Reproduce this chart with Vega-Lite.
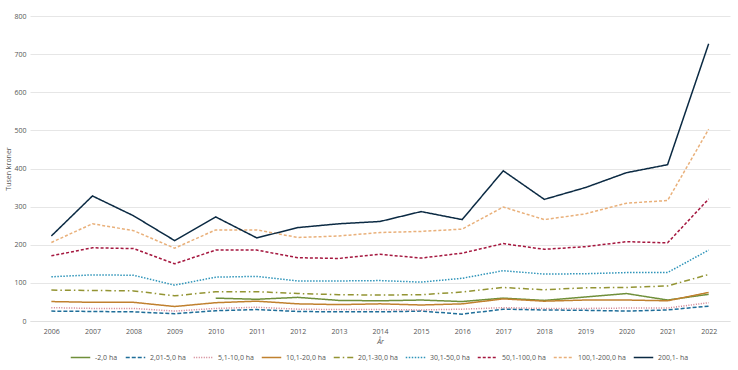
{
  "$schema": "https://vega.github.io/schema/vega-lite/v6.json",
  "width": 700,
  "height": 305,
  "autosize": "none",
  "padding": {"left": 30, "top": 16, "right": 8, "bottom": 49},
  "background": "white",
  "config": {
    "font": "Open Sans",
    "view": {"stroke": null},
    "axis": {"labelFont": "Open Sans", "titleFont": "Open Sans", "labelColor": "#555", "titleColor": "#555", "labelFontSize": 7, "titleFontSize": 7, "titleFontWeight": "normal"}
  },
  "data": {"values": [
    {"year":"2010","group":"-2,0 ha","value":60},{"year":"2011","group":"-2,0 ha","value":57},{"year":"2012","group":"-2,0 ha","value":62},{"year":"2013","group":"-2,0 ha","value":54},{"year":"2014","group":"-2,0 ha","value":53},{"year":"2015","group":"-2,0 ha","value":55},{"year":"2016","group":"-2,0 ha","value":51},{"year":"2017","group":"-2,0 ha","value":60},{"year":"2018","group":"-2,0 ha","value":54},{"year":"2019","group":"-2,0 ha","value":63},{"year":"2020","group":"-2,0 ha","value":72},{"year":"2021","group":"-2,0 ha","value":55},{"year":"2022","group":"-2,0 ha","value":70},

    {"year":"2006","group":"2,01-5,0 ha","value":26},{"year":"2007","group":"2,01-5,0 ha","value":25},{"year":"2008","group":"2,01-5,0 ha","value":24},{"year":"2009","group":"2,01-5,0 ha","value":19},{"year":"2010","group":"2,01-5,0 ha","value":27},{"year":"2011","group":"2,01-5,0 ha","value":30},{"year":"2012","group":"2,01-5,0 ha","value":25},{"year":"2013","group":"2,01-5,0 ha","value":24},{"year":"2014","group":"2,01-5,0 ha","value":24},{"year":"2015","group":"2,01-5,0 ha","value":26},{"year":"2016","group":"2,01-5,0 ha","value":18},{"year":"2017","group":"2,01-5,0 ha","value":31},{"year":"2018","group":"2,01-5,0 ha","value":29},{"year":"2019","group":"2,01-5,0 ha","value":28},{"year":"2020","group":"2,01-5,0 ha","value":26},{"year":"2021","group":"2,01-5,0 ha","value":29},{"year":"2022","group":"2,01-5,0 ha","value":39},

    {"year":"2006","group":"5,1-10,0 ha","value":35},{"year":"2007","group":"5,1-10,0 ha","value":33},{"year":"2008","group":"5,1-10,0 ha","value":33},{"year":"2009","group":"5,1-10,0 ha","value":26},{"year":"2010","group":"5,1-10,0 ha","value":33},{"year":"2011","group":"5,1-10,0 ha","value":36},{"year":"2012","group":"5,1-10,0 ha","value":31},{"year":"2013","group":"5,1-10,0 ha","value":30},{"year":"2014","group":"5,1-10,0 ha","value":30},{"year":"2015","group":"5,1-10,0 ha","value":29},{"year":"2016","group":"5,1-10,0 ha","value":31},{"year":"2017","group":"5,1-10,0 ha","value":35},{"year":"2018","group":"5,1-10,0 ha","value":33},{"year":"2019","group":"5,1-10,0 ha","value":33},{"year":"2020","group":"5,1-10,0 ha","value":34},{"year":"2021","group":"5,1-10,0 ha","value":34},{"year":"2022","group":"5,1-10,0 ha","value":48},

    {"year":"2006","group":"10,1-20,0 ha","value":51},{"year":"2007","group":"10,1-20,0 ha","value":49},{"year":"2008","group":"10,1-20,0 ha","value":49},{"year":"2009","group":"10,1-20,0 ha","value":38},{"year":"2010","group":"10,1-20,0 ha","value":48},{"year":"2011","group":"10,1-20,0 ha","value":52},{"year":"2012","group":"10,1-20,0 ha","value":45},{"year":"2013","group":"10,1-20,0 ha","value":43},{"year":"2014","group":"10,1-20,0 ha","value":45},{"year":"2015","group":"10,1-20,0 ha","value":42},{"year":"2016","group":"10,1-20,0 ha","value":45},{"year":"2017","group":"10,1-20,0 ha","value":58},{"year":"2018","group":"10,1-20,0 ha","value":52},{"year":"2019","group":"10,1-20,0 ha","value":55},{"year":"2020","group":"10,1-20,0 ha","value":55},{"year":"2021","group":"10,1-20,0 ha","value":53},{"year":"2022","group":"10,1-20,0 ha","value":75},

    {"year":"2006","group":"20,1-30,0 ha","value":81},{"year":"2007","group":"20,1-30,0 ha","value":80},{"year":"2008","group":"20,1-30,0 ha","value":79},{"year":"2009","group":"20,1-30,0 ha","value":66},{"year":"2010","group":"20,1-30,0 ha","value":77},{"year":"2011","group":"20,1-30,0 ha","value":77},{"year":"2012","group":"20,1-30,0 ha","value":72},{"year":"2013","group":"20,1-30,0 ha","value":69},{"year":"2014","group":"20,1-30,0 ha","value":68},{"year":"2015","group":"20,1-30,0 ha","value":69},{"year":"2016","group":"20,1-30,0 ha","value":76},{"year":"2017","group":"20,1-30,0 ha","value":88},{"year":"2018","group":"20,1-30,0 ha","value":82},{"year":"2019","group":"20,1-30,0 ha","value":87},{"year":"2020","group":"20,1-30,0 ha","value":88},{"year":"2021","group":"20,1-30,0 ha","value":92},{"year":"2022","group":"20,1-30,0 ha","value":122},

    {"year":"2006","group":"30,1-50,0 ha","value":116},{"year":"2007","group":"30,1-50,0 ha","value":121},{"year":"2008","group":"30,1-50,0 ha","value":120},{"year":"2009","group":"30,1-50,0 ha","value":94},{"year":"2010","group":"30,1-50,0 ha","value":115},{"year":"2011","group":"30,1-50,0 ha","value":117},{"year":"2012","group":"30,1-50,0 ha","value":105},{"year":"2013","group":"30,1-50,0 ha","value":105},{"year":"2014","group":"30,1-50,0 ha","value":106},{"year":"2015","group":"30,1-50,0 ha","value":102},{"year":"2016","group":"30,1-50,0 ha","value":112},{"year":"2017","group":"30,1-50,0 ha","value":132},{"year":"2018","group":"30,1-50,0 ha","value":123},{"year":"2019","group":"30,1-50,0 ha","value":124},{"year":"2020","group":"30,1-50,0 ha","value":127},{"year":"2021","group":"30,1-50,0 ha","value":127},{"year":"2022","group":"30,1-50,0 ha","value":186},

    {"year":"2006","group":"50,1-100,0 ha","value":171},{"year":"2007","group":"50,1-100,0 ha","value":192},{"year":"2008","group":"50,1-100,0 ha","value":190},{"year":"2009","group":"50,1-100,0 ha","value":150},{"year":"2010","group":"50,1-100,0 ha","value":186},{"year":"2011","group":"50,1-100,0 ha","value":186},{"year":"2012","group":"50,1-100,0 ha","value":166},{"year":"2013","group":"50,1-100,0 ha","value":164},{"year":"2014","group":"50,1-100,0 ha","value":175},{"year":"2015","group":"50,1-100,0 ha","value":165},{"year":"2016","group":"50,1-100,0 ha","value":178},{"year":"2017","group":"50,1-100,0 ha","value":203},{"year":"2018","group":"50,1-100,0 ha","value":188},{"year":"2019","group":"50,1-100,0 ha","value":195},{"year":"2020","group":"50,1-100,0 ha","value":208},{"year":"2021","group":"50,1-100,0 ha","value":205},{"year":"2022","group":"50,1-100,0 ha","value":320},

    {"year":"2006","group":"100,1-200,0 ha","value":206},{"year":"2007","group":"100,1-200,0 ha","value":255},{"year":"2008","group":"100,1-200,0 ha","value":237},{"year":"2009","group":"100,1-200,0 ha","value":191},{"year":"2010","group":"100,1-200,0 ha","value":239},{"year":"2011","group":"100,1-200,0 ha","value":239},{"year":"2012","group":"100,1-200,0 ha","value":219},{"year":"2013","group":"100,1-200,0 ha","value":223},{"year":"2014","group":"100,1-200,0 ha","value":232},{"year":"2015","group":"100,1-200,0 ha","value":235},{"year":"2016","group":"100,1-200,0 ha","value":241},{"year":"2017","group":"100,1-200,0 ha","value":299},{"year":"2018","group":"100,1-200,0 ha","value":266},{"year":"2019","group":"100,1-200,0 ha","value":281},{"year":"2020","group":"100,1-200,0 ha","value":309},{"year":"2021","group":"100,1-200,0 ha","value":316},{"year":"2022","group":"100,1-200,0 ha","value":503},

    {"year":"2006","group":"200,1- ha","value":223},{"year":"2007","group":"200,1- ha","value":328},{"year":"2008","group":"200,1- ha","value":276},{"year":"2009","group":"200,1- ha","value":211},{"year":"2010","group":"200,1- ha","value":273},{"year":"2011","group":"200,1- ha","value":218},{"year":"2012","group":"200,1- ha","value":245},{"year":"2013","group":"200,1- ha","value":255},{"year":"2014","group":"200,1- ha","value":261},{"year":"2015","group":"200,1- ha","value":287},{"year":"2016","group":"200,1- ha","value":266},{"year":"2017","group":"200,1- ha","value":394},{"year":"2018","group":"200,1- ha","value":319},{"year":"2019","group":"200,1- ha","value":350},{"year":"2020","group":"200,1- ha","value":389},{"year":"2021","group":"200,1- ha","value":410},{"year":"2022","group":"200,1- ha","value":727}
  ]},
  "mark": {"type": "line", "strokeWidth": 1.5},
  "encoding": {
    "x": {
      "field": "year", "type": "ordinal", "title": "År",
      "scale": {"type": "point", "padding": 0.52},
      "axis": {"labelAngle": 0, "ticks": false, "domain": true, "domainColor": "#e0e0e0", "labelPadding": 6, "titlePadding": 3, "titleFontStyle": "italic", "grid": false}
    },
    "y": {
      "field": "value", "type": "quantitative", "title": "Tusen kroner",
      "scale": {"domain": [0, 800]},
      "axis": {"values": [0,100,200,300,400,500,600,700,800], "ticks": false, "domain": false, "gridColor": "#e6e6e6", "labelPadding": 4, "titlePadding": 2}
    },
    "color": {
      "field": "group", "type": "nominal", "title": null,
      "scale": {
        "domain": ["-2,0 ha","2,01-5,0 ha","5,1-10,0 ha","10,1-20,0 ha","20,1-30,0 ha","30,1-50,0 ha","50,1-100,0 ha","100,1-200,0 ha","200,1- ha"],
        "range": ["#6f8f3a","#1f6e99","#d07d8c","#c0812f","#939433","#2e94b9","#a5173f","#e9b07a","#0b2a43"]
      },
      "legend": {"orient": "none", "legendX": 40, "legendY": 331, "direction": "horizontal", "columns": 9, "gridAlign": "none", "symbolType": "stroke", "symbolSize": 380, "symbolStrokeWidth": 1.5, "labelFontSize": 7, "labelColor": "#555", "labelFont": "Open Sans", "labelOffset": 4, "columnPadding": 4}
    },
    "strokeDash": {
      "field": "group", "type": "nominal", "title": null,
      "scale": {
        "domain": ["-2,0 ha","2,01-5,0 ha","5,1-10,0 ha","10,1-20,0 ha","20,1-30,0 ha","30,1-50,0 ha","50,1-100,0 ha","100,1-200,0 ha","200,1- ha"],
        "range": [[1,0],[4,2],[1,1.5],[1,0],[6,3,1.5,3],[1.5,1.5],[3,2],[3,2],[1,0]]
      }
    }
  }
}
